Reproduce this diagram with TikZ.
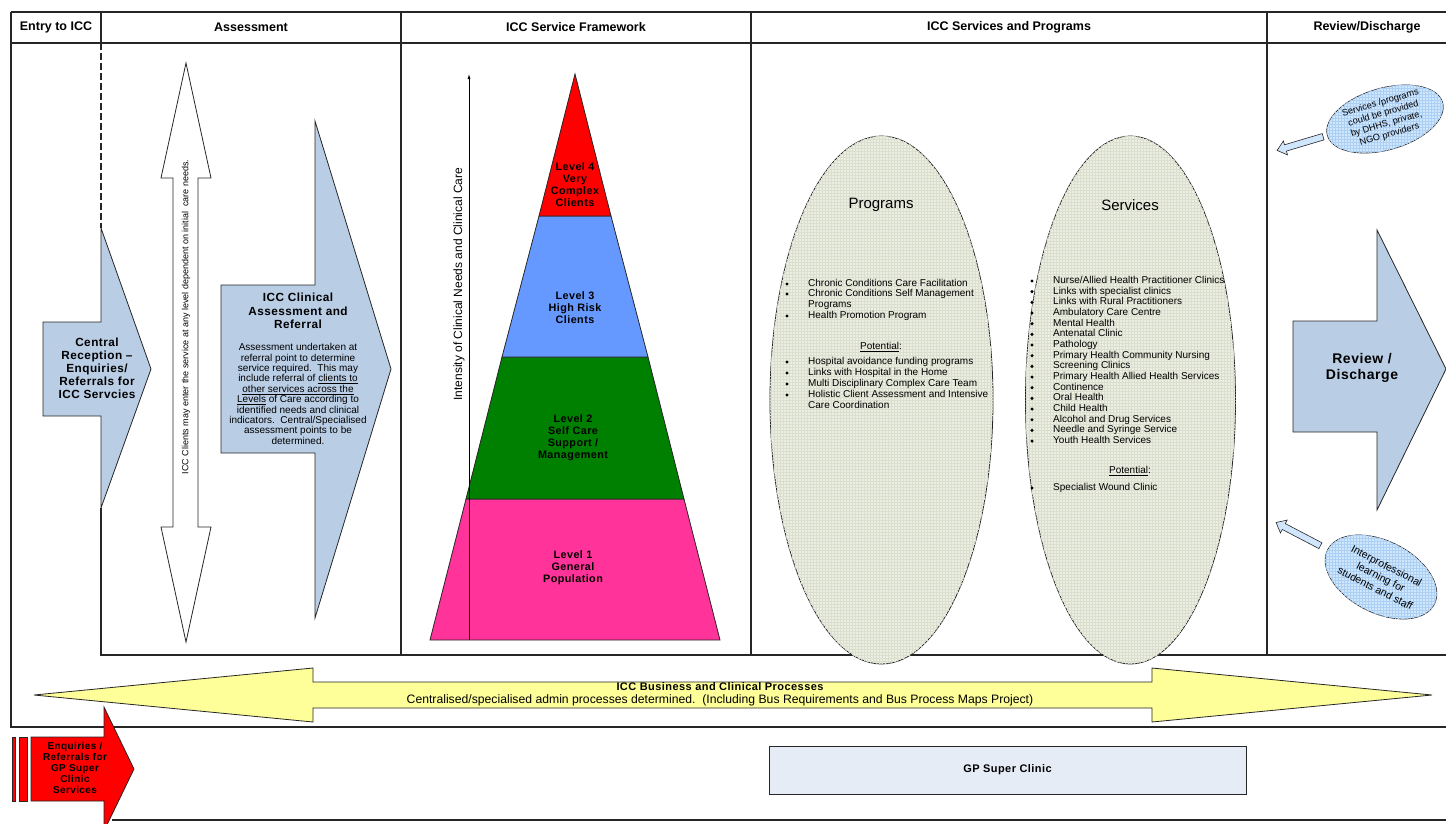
\documentclass[tikz,border=0pt]{standalone}
\usepackage{fontspec}
\setmainfont{Liberation Sans}
\newfontfamily\widefont{Liberation Sans}[LetterSpace=4]
\usetikzlibrary{arrows.meta,shapes.geometric,shapes.arrows,patterns}

\definecolor{laneblue}{RGB}{185,205,229}
\definecolor{busyellow}{RGB}{255,255,153}
\definecolor{levelred}{RGB}{255,0,0}
\definecolor{levelblue}{RGB}{102,153,255}
\definecolor{levelgreen}{RGB}{0,128,0}
\definecolor{levelpink}{RGB}{255,51,153}
\definecolor{ovalfill}{RGB}{236,238,226}
\definecolor{ovalgrid}{RGB}{218,222,206}
\definecolor{bubblefill}{RGB}{208,230,252}
\definecolor{bubblegrid}{RGB}{172,208,244}
\definecolor{clinicfill}{RGB}{230,236,246}

\newcommand\fs[2]{\fontsize{#1}{#2}\selectfont}

\tikzset{
  laneline/.style={draw=black!85, line width=1.3pt},
  edgeline/.style={draw=black!85, line width=0.8pt},
  lanetitle/.style={font=\bfseries\fs{12.5}{14}},
  bluearrow/.style={edgeline, fill=laneblue},
  arrowtext/.style={align=center, inner sep=0pt, font=\widefont\bfseries\fs{11.8}{13}},
  leveltext/.style={align=center, inner sep=0pt, font=\widefont\bfseries\fs{10.8}{12}},
  ovalbox/.style={edgeline, fill=ovalfill, postaction={pattern=grid, pattern color=ovalgrid}},
  listtext/.style={anchor=west, inner sep=0pt, text height=7.2pt, text depth=2pt, font=\fs{10}{10.7}},
  infobubble/.style={ellipse, edgeline, line width=0.6pt, fill=bubblefill,
    postaction={pattern=grid, pattern color=bubblegrid}, inner sep=0pt, align=center, font=\fs{9.2}{11}},
  pointer/.style={single arrow, edgeline, line width=0.6pt, fill=bubblefill, inner sep=3pt,
    minimum height=48pt, single arrow head extend=4pt, single arrow tip angle=80},
}

\begin{document}
\begin{tikzpicture}[x=1pt,y=-1pt]
  \useasboundingbox (0,0) rectangle (1446,823);

  % swimlanes
  \draw[laneline] (11,12) -- (1446,12);
  \draw[laneline] (11,43) -- (1446,43);
  \draw[laneline] (11,12) -- (11,727) -- (1446,727);
  \draw[laneline] (101,12) -- (101,43);
  \draw[laneline, dash pattern=on 7pt off 3pt] (101,43) -- (101,228);
  \draw[laneline] (101,508) -- (101,655) -- (1446,655);
  \foreach \x in {401,751,1267} {
    \draw[laneline] (\x,12) -- (\x,655);
  }
  \draw[laneline] (112,820) -- (1446,820);
  \foreach [count=\i] \x/\t in {56/Entry to ICC, 251/Assessment, 576/ICC Service Framework,
      1009/ICC Services and Programs, 1367/{Review/Discharge}} {
    \node[lanetitle] (lane\i) at (\x,27) {\t};
  }

  % entry and assessment
  \draw[bluearrow] (43,322) -- (101,322) -- (101,228) -- (151,369) -- (101,508) -- (101,416) -- (43,416) -- cycle;
  \node[arrowtext] (reception) at (97,368) {Central\\Reception –\\Enquiries/\\Referrals for\\ICC Servcies};

  \draw[edgeline, fill=white] (186,63) -- (211,178) -- (198,178) -- (198,527) -- (211,527) -- (186,642)
    -- (161,527) -- (173,527) -- (173,178) -- (161,178) -- cycle;
  \node[rotate=90, inner sep=0pt, font=\fs{9}{10}] (entrynote) at (186,317)
    {ICC Clients may enter the service at any level dependent on initial\ \ care needs.};

  \draw[bluearrow] (221,285) -- (315,285) -- (315,121) -- (391,369) -- (315,618) -- (315,453) -- (221,453) -- cycle;
  \node[arrowtext, font=\widefont\bfseries\fs{11.8}{13.7}] (clinical) at (298,311) {ICC Clinical\\Assessment and\\Referral};
  \node[align=center, inner sep=0pt, font=\fs{10}{10.4}] (clinicalnote) at (298,394)
    {Assessment undertaken at\\referral point to determine\\service required.\ \ This may\\include referral of \underline{clients to}\\
     \underline{other services across the}\\\underline{Levels} of Care according to\\identified needs and clinical\\
     indicators.\ \ Central/Specialised\\assessment points to be\\determined.};

  % framework pyramid
  \draw[edgeline, fill=levelpink] (430,640) -- (720,640) -- (684,499) -- (466,499) -- cycle;
  \draw[edgeline, fill=levelgreen] (466,499) -- (684,499) -- (648,357) -- (502,357) -- cycle;
  \draw[edgeline, fill=levelblue] (502,357) -- (648,357) -- (611,216) -- (539,216) -- cycle;
  \draw[edgeline, fill=levelred] (539,216) -- (611,216) -- (575,74) -- cycle;
  \node[leveltext] (level4) at (575,185) {Level 4\\Very\\Complex\\Clients};
  \node[leveltext] (level3) at (575,308) {Level 3\\High Risk\\Clients};
  \node[leveltext] (level2) at (573,438) {Level 2\\Self Care\\Support /\\Management};
  \node[leveltext] (level1) at (573,568) {Level 1\\General\\Population};
  \coordinate (axisfoot) at (469,640);
  \coordinate (axistop) at (469,74);
  \draw[line width=0.7pt, -{Latex[length=5pt,width=3pt]}] (axisfoot) -- (axistop);
  \node[rotate=90, inner sep=0pt, font=\fs{12}{14}] (intensity) at (459,284)
    {Intensity of Clinical Needs and Clinical Care};

  % services and programs
  \path[ovalbox] (881.5,400) ellipse [x radius=111.5, y radius=264];
  \path[ovalbox] (1130.5,400) ellipse [x radius=105, y radius=264];
  \node[font=\fs{15}{17}] (programs) at (881,205) {Programs};
  \node[font=\fs{15}{17}] (services) at (1130,205) {Services};

  \foreach \y/\p in {284/Chronic Conditions Care Facilitation, 294/Chronic Conditions Self Management,
      316/Health Promotion Program, 362/Hospital avoidance funding programs, 373/Links with Hospital in the Home,
      384/Multi Disciplinary Complex Care Team, 395/Holistic Client Assessment and Intensive} {
    \fill (787,\y) circle (1.7);
    \node[listtext] (program\y) at (808,\y) {\p};
  }
  \node[listtext] (programwrap) at (808,305) {Programs};
  \node[listtext] (carewrap) at (808,406) {Care Coordination};
  \node[listtext, anchor=center] (programpotential) at (881,347) {\underline{Potential}:};

  \foreach [count=\i from 0] \s in {Nurse/Allied Health Practitioner Clinics, Links with specialist clinics,
      Links with Rural Practitioners, Ambulatory Care Centre, Mental Health, Antenatal Clinic, Pathology,
      Primary Health Community Nursing, Screening Clinics, Primary Health Allied Health Services, Continence,
      Oral Health, Child Health, Alcohol and Drug Services, Needle and Syringe Service, Youth Health Services} {
    \fill (1032,281+10.67*\i) circle (1.7);
    \node[listtext] (service\i) at (1053,281+10.67*\i) {\s};
  }
  \node[listtext, anchor=center] (servicepotential) at (1130,471) {\underline{Potential}:};
  \fill (1032,488) circle (1.7);
  \node[listtext] (woundclinic) at (1053,488) {Specialist Wound Clinic};

  % review / discharge
  \draw[bluearrow] (1293,321) -- (1377,321) -- (1377,230) -- (1446,369) -- (1377,510) -- (1377,432) -- (1293,432) -- cycle;
  \node[arrowtext, font=\widefont\bfseries\fs{14}{16}] (review) at (1362,368) {Review /\\Discharge};
  \node[pointer, rotate=196.6] (providerarrow) at (1302,143) {};
  \node[pointer, rotate=152.4, minimum height=50pt] (learningarrow) at (1300,535) {};
  \node[infobubble, rotate=16, minimum width=120pt, minimum height=62pt] (provider) at (1385,119)
    {Services /programs\\could be provided\\by DHHS, private,\\NGO providers};
  \node[infobubble, rotate=-27, minimum width=120pt, minimum height=72pt, font=\fs{10.5}{12.5}] (learning) at (1381,577)
    {Interprofessional\\learning for\\students and staff};

  % business processes
  \draw[edgeline, fill=busyellow] (34,695) -- (313,668) -- (313,682) -- (1152,682) -- (1152,668) -- (1432,695)
    -- (1152,722) -- (1152,708) -- (313,708) -- (313,722) -- cycle;
  \node[inner sep=0pt, font=\widefont\bfseries\fs{11}{13}] (business) at (720,687) {ICC Business and Clinical Processes};
  \node[inner sep=0pt, font=\fs{12.2}{13}] (businessnote) at (720,700.5)
    {Centralised/specialised admin processes determined.\ \ (Including Bus Requirements and Bus Process Maps Project)};

  % GP super clinic
  \draw[edgeline, fill=levelred] (12,737) rectangle (15,801);
  \draw[edgeline, fill=levelred] (19,737) rectangle (27,801);
  \draw[edgeline, fill=levelred] (31,737) -- (104,737) -- (104,707) -- (134,769) -- (104,831) -- (104,801) -- (31,801) -- cycle;
  \node[arrowtext, font=\widefont\bfseries\fs{10}{11}] (gpentry) at (75,768) {Enquiries /\\Referrals for\\GP Super\\Clinic\\Services};
  \node[edgeline, fill=clinicfill, minimum width=477pt, minimum height=48pt,
    font=\widefont\bfseries\fs{11}{12}] (gpclinic) at (1007.5,770) {GP Super Clinic};
\end{tikzpicture}
\end{document}
